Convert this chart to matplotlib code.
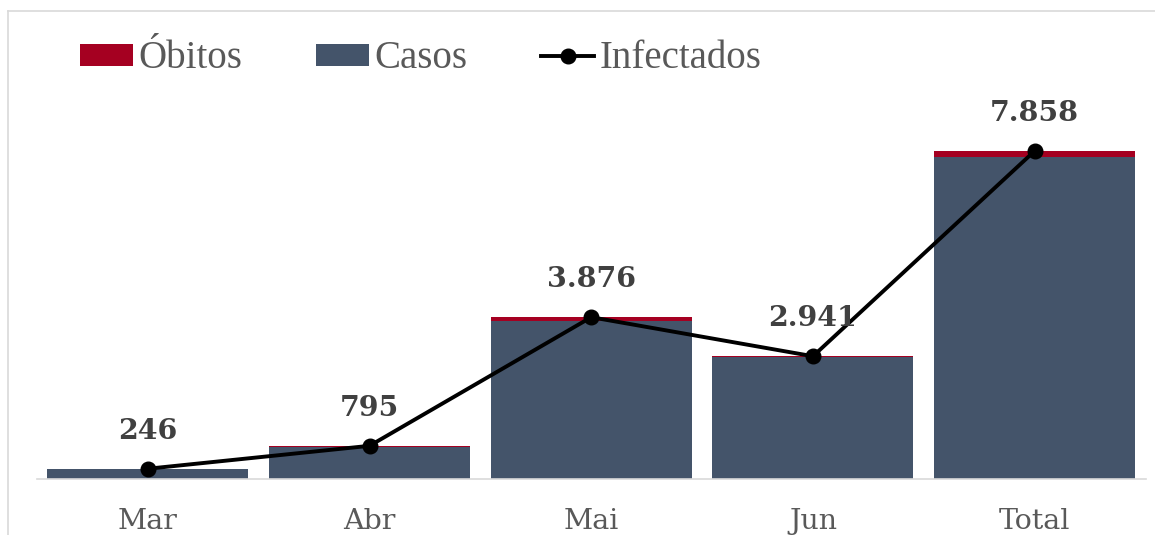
import matplotlib
matplotlib.use("Agg")
import matplotlib.pyplot as plt
from matplotlib.lines import Line2D

categories = ["Mar", "Abr", "Mai", "Jun", "Total"]
infectados = [246, 795, 3876, 2941, 7858]
obitos = [8, 22, 82, 30, 142]
casos = [i - o for i, o in zip(infectados, obitos)]
labels = ["246", "795", "3.876", "2.941", "7.858"]

C_CASOS = "#44546A"
C_OBITOS = "#A50021"
GRID = "#D9D9D9"

fig = plt.figure(figsize=(11.55, 5.35), dpi=100)
ax = fig.add_axes([37/1155, 56/535, (1145.5-37)/1155, (479-103.3)/535])

x = list(range(len(categories)))
h_casos = ax.bar(x, casos, width=0.907, color=C_CASOS, label="Casos", zorder=2)
h_obitos = ax.bar(x, obitos, width=0.907, bottom=casos, color=C_OBITOS, label="Óbitos", zorder=2)
h_inf, = ax.plot(x, infectados, color="black", lw=2.8, marker="o", markersize=10.5,
                 label="Infectados", zorder=4)

for xi, yi, t in zip(x, infectados, labels):
    ax.annotate(t, (xi, yi), xytext=(0, 27), textcoords="offset points",
                ha="center", va="center", fontsize=20.5, fontweight="bold",
                family="DejaVu Serif", color="#404040", zorder=5)

ax.set_xlim(-0.5, 4.5)
ax.set_ylim(0, 9000)
ax.set_xticks(x)
ax.set_xticklabels(categories, family="DejaVu Serif", fontsize=20.5, color="#595959")
ax.tick_params(axis="x", length=0, pad=21)
ax.set_yticks([])
for s in ["top", "right", "left"]:
    ax.spines[s].set_visible(False)
ax.spines["bottom"].set_color(GRID)
ax.spines["bottom"].set_linewidth(1.2)

leg = fig.legend([h_obitos, h_casos, h_inf], ["Óbitos", "Casos", "Infectados"],
                 loc="center left", bbox_to_anchor=(80/1155, 1-59/535),
                 ncol=3, frameon=False,
                 prop={"family": "Liberation Serif", "size": 28},
                 handlelength=1.35, handleheight=0.5, handletextpad=0.15,
                 columnspacing=1.9, borderaxespad=0, borderpad=0)
for t in leg.get_texts():
    t.set_color("#595959")

# outer chart frame (partially visible)
fig.add_artist(Line2D([7.5/1155, 7.5/1155], [0, 1-10.5/535], transform=fig.transFigure,
                      color=GRID, lw=1.2))
fig.add_artist(Line2D([7.5/1155, 1], [1-10.5/535, 1-10.5/535], transform=fig.transFigure,
                      color=GRID, lw=1.2))

fig.savefig("out.png", dpi=100)
